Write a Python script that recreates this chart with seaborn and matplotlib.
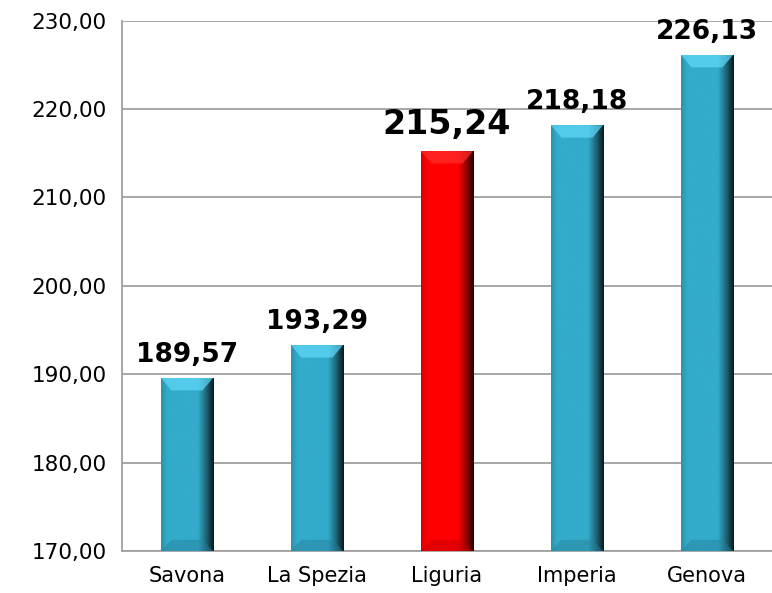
import numpy as np
import pandas as pd
import matplotlib
matplotlib.use("Agg")
import matplotlib.pyplot as plt
import seaborn as sns
from matplotlib.colors import LinearSegmentedColormap, to_rgb
from matplotlib.patches import Polygon
from matplotlib.ticker import FuncFormatter, MultipleLocator

## Valore medio per area (Liguria vs province)

areas = ["Savona", "La Spezia", "Liguria", "Imperia", "Genova"]
values = [189.57, 193.29, 215.24, 218.18, 226.13]
bar_colors = ["#33abcb", "#33abcb", "#ff0000", "#33abcb", "#33abcb"]

df = pd.DataFrame({"area": areas, "value": values})

sns.set_theme(style="white")
plt.rcParams["font.family"] = ["DejaVu Sans"]

fig = plt.figure(figsize=(7.72, 5.93), dpi=100)
ax = fig.add_axes([0.158, 0.071, 0.842, 0.894])

sns.barplot(data=df, x="area", y="value", hue="area", palette=bar_colors,
            width=0.4, legend=False, ax=ax, saturation=1)

ymin, ymax = 170, 230
ax.set_ylim(ymin, ymax)
ax.yaxis.set_major_locator(MultipleLocator(10))
ax.yaxis.set_major_formatter(FuncFormatter(lambda v, p: f"{v:.2f}".replace(".", ",")))
ax.grid(axis="y", color="#a0a0a0", linewidth=1.3)
ax.set_axisbelow(True)
ax.set_xlabel("")
ax.set_ylabel("")

for s in ["top", "right"]:
    ax.spines[s].set_visible(False)
for s in ["left", "bottom"]:
    ax.spines[s].set_color("#a0a0a0")
    ax.spines[s].set_linewidth(1.3)

ax.set_xticks(np.arange(len(areas)))
ax.set_xticklabels(areas, fontsize=15)
ax.set_xticks(np.arange(len(areas)) - 0.5, minor=True)
ax.tick_params(axis="x", which="major", length=0, pad=11, labelcolor="#000000")
ax.tick_params(axis="x", which="minor", length=7, width=1.3, color="#a0a0a0", direction="out")
ax.tick_params(axis="y", length=7, width=1.3, color="#a0a0a0", direction="out",
               labelsize=15.5, pad=4, labelcolor="#000000")

# bevel / gradient look for each bar
for patch, col in zip(ax.patches, bar_colors):
    x0, w = patch.get_x(), patch.get_width()
    y_top = patch.get_y() + patch.get_height()
    y_bot = ymin
    base = np.array(to_rgb(col))
    cmap = LinearSegmentedColormap.from_list(
        "b", [(0.0, base * 0.85), (0.12, base), (0.7, base),
              (0.85, base * 0.6), (1.0, base * 0.15)], N=256)
    grad = np.linspace(0, 1, 256).reshape(1, -1)
    ax.imshow(grad, cmap=cmap, aspect="auto",
              extent=[x0, x0 + w, y_bot, y_top], zorder=3)
    patch.set_visible(False)
    bev_y = 1.4
    inset = w * 0.2
    top = Polygon([[x0, y_top], [x0 + w, y_top],
                   [x0 + w - inset, y_top - bev_y], [x0 + inset, y_top - bev_y]],
                  closed=True, facecolor=np.clip(base + 0.18, 0, 1),
                  edgecolor="none", zorder=4, alpha=0.7)
    ax.add_patch(top)
    bot = Polygon([[x0, y_bot], [x0 + w, y_bot],
                   [x0 + w - inset, y_bot + bev_y * 0.9], [x0 + inset, y_bot + bev_y * 0.9]],
                  closed=True, facecolor=base * 0.75, edgecolor="none", zorder=4, alpha=0.45)
    ax.add_patch(bot)

ax.set_xlim(-0.5, len(areas) - 0.5)
ax.set_ylim(ymin, ymax)

for i, v in enumerate(values):
    size = 24 if areas[i] == "Liguria" else 19
    ax.annotate(f"{v:.2f}".replace(".", ","), (i, v), xytext=(0, 7),
                textcoords="offset points", ha="center", va="bottom",
                fontsize=size, fontweight="bold", color="#000000",
                annotation_clip=False, zorder=5)

fig.savefig("out.png", dpi=100)
